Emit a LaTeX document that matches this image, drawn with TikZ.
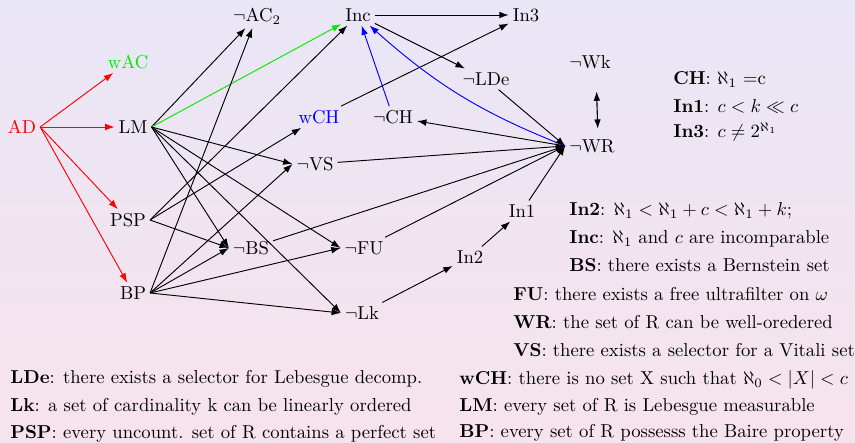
\documentclass[tikz,border=0pt]{standalone}
\usetikzlibrary{arrows.meta}
\definecolor{bgtop}{RGB}{233,230,246}
\definecolor{bgbot}{RGB}{247,227,236}
\definecolor{gr}{RGB}{0,235,0}
\begin{document}
\begin{tikzpicture}[x=0.5355pt,y=-0.5355pt,
  lbl/.style={inner sep=2pt},
  arr/.style={-{Latex[length=5pt,width=3.6pt]}, line width=0.5pt},
  dbl/.style={{Latex[length=5pt,width=3.6pt]}-{Latex[length=5pt,width=3.6pt]}, line width=0.6pt},
  leg/.style={anchor=base west, inner sep=0pt}]
\shade[top color=bgtop, bottom color=bgbot] (0,0) rectangle (855,443);
\useasboundingbox (0,0) rectangle (855,443);
% nodes
\node[lbl,text=red] (AD) at (22,127) {AD};
\node[lbl,text=gr] (wAC) at (128,62) {wAC};
\node[lbl] (LM) at (133,127) {LM};
\node[lbl] (PSP) at (128,220) {PSP};
\node[lbl] (BP) at (133,293) {BP};
\node[lbl] (AC2) at (257,16) {$\neg$AC$_2$};
\node[lbl] (Inc) at (358,15) {Inc};
\node[lbl] (In3) at (526,15) {In3};
\node[lbl] (LDe) at (486,79) {$\neg$LDe};
\node[lbl] (Wk) at (590,62) {$\neg$Wk};
\node[lbl] (WR) at (592,146) {$\neg$WR};
\node[lbl,text=blue] (wCH) at (319,117) {wCH};
\node[lbl] (CH) at (393,117) {$\neg$CH};
\node[lbl] (VS) at (315,164) {$\neg$VS};
\node[lbl] (BS) at (251,248) {$\neg$BS};
\node[lbl] (FU) at (364,248) {$\neg$FU};
\node[lbl] (Lk) at (362,313) {$\neg$Lk};
\node[lbl] (In2) at (470,257) {In2};
\node[lbl] (In1) at (522,211) {In1};
% red edges
\draw[arr,red] (AD.east) -- (wAC);
\draw[arr,red] (AD.east) -- (LM.west);
\draw[arr,red] (AD.east) -- (PSP);
\draw[arr,red] (AD.east) -- (BP);
% LM
\draw[arr] (LM.east) -- (AC2);
\draw[arr,gr] (LM.east) -- (Inc);
\draw[arr] (LM.east) -- (VS.west);
\draw[arr] (LM.east) -- (BS.west);
\draw[arr] (LM.east) -- (FU.west);
\draw[arr] (LM.east) -- (Lk.west);
% PSP
\draw[arr] (PSP.east) -- (Inc);
\draw[arr] (PSP.east) -- (wCH);
\draw[arr] (PSP.east) -- (BS.west);
% BP
\draw[arr] (BP.east) -- (AC2);
\draw[arr] (BP.east) -- (VS.west);
\draw[arr] (BP.east) -- (BS.west);
\draw[arr] (BP.east) -- (FU.west);
\draw[arr] (BP.east) -- (Lk.west);
% upper right
\draw[arr] (Inc) -- (In3);
\draw[arr] (Inc) -- (LDe);
\draw[arr] (wCH) -- (In3);
\draw[arr,blue] (CH) -- (Inc);
\draw[arr,blue] (WR.west) to[bend left=10] (Inc);
\draw[arr] (LDe) -- (WR.west);
\draw[arr] (WR.west) -- (CH);
\draw[arr] (VS) -- (WR.west);
\draw[arr] (BS) -- (WR.west);
\draw[arr] (FU) -- (WR.west);
\draw[arr] (In1) -- (WR.west);
\draw[arr] (Lk) -- (In2);
\draw[arr] (In2) -- (In1);
\draw[dbl,shorten <=10pt,shorten >=3.5pt] ([xshift=3.2pt]Wk.south) -- ([xshift=3.2pt]WR.north);
% legends
\node[leg] (lCH) at (673,85) {\textbf{CH}: $\aleph_1$ =c};
\node[leg] (lIn1) at (673,113) {\textbf{In1}: $c<k\ll c$};
\node[leg] (lIn3) at (673,138) {\textbf{In3}: $c\neq 2^{\aleph_1}$};
\node[leg] (lIn2) at (569,216) {\textbf{In2}: $\aleph_1<\aleph_1+c<\aleph_1+k$;};
\node[leg] (lInc) at (569,244) {\textbf{Inc}: $\aleph_1$ and $c$ are incomparable};
\node[leg] (lBS) at (569,272) {\textbf{BS}: there exists a Bernstein set};
\node[leg] (lFU) at (513,301) {\textbf{FU}: there exists a free ultrafilter on $\omega$};
\node[leg] (lWR) at (513,329) {\textbf{WR}: the set of R can be well-oredered};
\node[leg] (lVS) at (513,357) {\textbf{VS}: there exists a selector for a Vitali set};
\node[leg] (lwCH) at (459,385) {\textbf{wCH}: there is no set X such that $\aleph_0<|X|<c$};
\node[leg] (lLM) at (459,412) {\textbf{LM}: every set of R is Lebesgue measurable};
\node[leg] (lBP) at (459,438) {\textbf{BP}: every set of R possesss the Baire property};
\node[leg] (lLDe) at (10,384) {\textbf{LDe}: there exists a selector for Lebesgue decomp.};
\node[leg] (lLk) at (10,412) {\textbf{Lk}: a set of cardinality k can be linearly ordered};
\node[leg] (lPSP) at (10,439) {\textbf{PSP}: every uncount. set of R contains a perfect set};
\end{tikzpicture}
\end{document}
